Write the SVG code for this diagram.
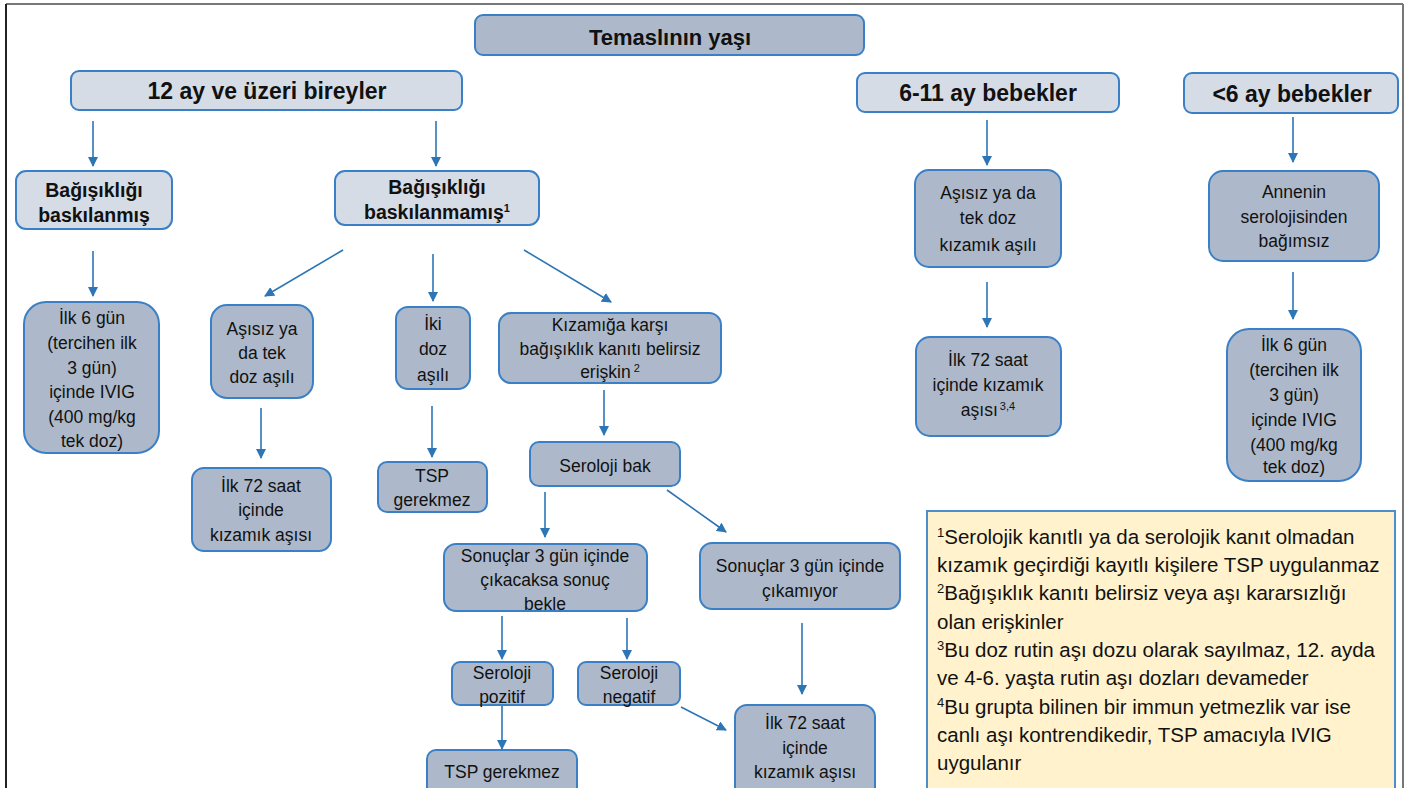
<svg xmlns="http://www.w3.org/2000/svg" width="1407" height="788" viewBox="0 0 1407 788">
<defs>
<marker id="ah" viewBox="0 0 10 10" refX="9" refY="5" markerWidth="10" markerHeight="10" markerUnits="userSpaceOnUse" orient="auto">
<path d="M0,0 L10,5 L0,10 Z" fill="#2e75b6"/>
</marker>
<style>
.lt{fill:#d6dce5;stroke:#3a80c6;stroke-width:2}
.dk{fill:#adb9ca;stroke:#3a80c6;stroke-width:2}
.lg{fill:#fff2cc;stroke:#4a8ed0;stroke-width:2}
text{font-family:"Liberation Sans","DejaVu Sans",sans-serif;fill:#111;text-anchor:middle}
.b{font-weight:bold}
.t{font-size:17.5px}
.leg text{text-anchor:start;font-size:20.5px}
#connectors line{stroke:#2e75b6;stroke-width:1.6;marker-end:url(#ah)}
</style>
</defs>
<rect width="1407" height="788" fill="#fff"/>
<g id="frame">
<line x1="6" y1="4" x2="1403" y2="4" stroke="#777" stroke-width="2"/>
<line x1="6" y1="4" x2="6" y2="788" stroke="#222" stroke-width="2"/>
<line x1="1403" y1="4" x2="1403" y2="788" stroke="#777" stroke-width="2"/>
</g>
<g id="connectors">
<line x1="93" y1="121" x2="93" y2="166"/>
<line x1="436" y1="121" x2="436" y2="166"/>
<line x1="93" y1="251" x2="93" y2="296"/>
<line x1="343" y1="250" x2="265" y2="296"/>
<line x1="433" y1="254" x2="433" y2="301"/>
<line x1="524" y1="250" x2="611" y2="302"/>
<line x1="261" y1="408" x2="261" y2="458"/>
<line x1="432" y1="406" x2="432" y2="457"/>
<line x1="604" y1="390" x2="604" y2="435"/>
<line x1="545" y1="492" x2="545" y2="537"/>
<line x1="667" y1="490" x2="726" y2="532"/>
<line x1="502" y1="616" x2="502" y2="659"/>
<line x1="627" y1="618" x2="627" y2="659"/>
<line x1="802" y1="623" x2="802" y2="694"/>
<line x1="502" y1="705" x2="502" y2="749"/>
<line x1="681" y1="707" x2="726" y2="730"/>
<line x1="987" y1="120" x2="987" y2="165"/>
<line x1="987" y1="282" x2="987" y2="327"/>
<line x1="1293" y1="117" x2="1293" y2="162"/>
<line x1="1293" y1="272" x2="1293" y2="319"/>
</g>
<g id="n-temas"><rect class="dk" x="475" y="15" width="389" height="40" rx="8"/><text class="b" x="670" y="45" font-size="22">Temaslının yaşı</text></g>
<g id="n-12ay"><rect class="lt" x="71" y="71" width="391" height="39" rx="8"/><text class="b" x="267" y="99" font-size="23">12 ay ve üzeri bireyler</text></g>
<g id="n-611"><rect class="lt" x="857" y="73" width="262" height="39" rx="8"/><text class="b" x="988" y="101" font-size="23">6-11 ay bebekler</text></g>
<g id="n-lt6"><rect class="lt" x="1184" y="73" width="214" height="40" rx="8"/><text class="b" x="1292" y="102" font-size="23">&lt;6 ay bebekler</text></g>
<g id="n-bask"><rect class="lt" x="16" y="171" width="156" height="58" rx="10"/><text class="b" x="94" y="197" font-size="19.5">Bağışıklığı</text><text class="b" x="94" y="222" font-size="19.5">baskılanmış</text></g>
<g id="n-baskma"><rect class="lt" x="335" y="171" width="204" height="54" rx="10"/><text class="b" x="437" y="194" font-size="19.5">Bağışıklığı</text><text class="b" x="437" y="219" font-size="19.5">baskılanmamış<tspan font-size="11" dy="-7">1</tspan></text></g>
<g id="n-ivig1"><rect class="dk" x="24" y="302" width="135" height="151" rx="22"/>
<text class="t" x="92" y="324">İlk 6 gün</text><text class="t" x="92" y="349">(tercihen ilk</text><text class="t" x="92" y="374">3 gün)</text><text class="t" x="92" y="398">içinde IVIG</text><text class="t" x="92" y="423">(400 mg/kg</text><text class="t" x="92" y="447">tek doz)</text></g>
<g id="n-asisiz"><rect class="dk" x="211" y="305" width="102" height="93" rx="16"/>
<text class="t" x="262" y="335">Aşısız ya</text><text class="t" x="262" y="359">da tek</text><text class="t" x="262" y="383">doz aşılı</text></g>
<g id="n-iki"><rect class="dk" x="396" y="307" width="74" height="82" rx="12"/>
<text class="t" x="433" y="330">İki</text><text class="t" x="433" y="355">doz</text><text class="t" x="433" y="381">aşılı</text></g>
<g id="n-kizamiga"><rect class="dk" x="499" y="313" width="222" height="70" rx="12"/>
<text x="610" y="331" font-size="17.5">Kızamığa karşı</text><text x="610" y="355" font-size="17.5">bağışıklık kanıtı belirsiz</text><text x="610" y="378" font-size="17.5">erişkin<tspan font-size="11" dx="3" dy="-6">2</tspan></text></g>
<g id="n-72a"><rect class="dk" x="192" y="468" width="139" height="83" rx="12"/>
<text class="t" x="261" y="492">İlk 72 saat</text><text class="t" x="261" y="516">içinde</text><text class="t" x="261" y="541">kızamık aşısı</text></g>
<g id="n-tsp1"><rect class="dk" x="378" y="462" width="109" height="50" rx="9"/>
<text class="t" x="432" y="482">TSP</text><text class="t" x="432" y="506">gerekmez</text></g>
<g id="n-serbak"><rect class="dk" x="530" y="442" width="150" height="44" rx="9"/><text class="t" x="605" y="472">Seroloji bak</text></g>
<g id="n-sonuc1"><rect class="dk" x="444" y="544" width="203" height="67" rx="12"/>
<text class="t" x="545" y="562">Sonuçlar 3 gün içinde</text><text class="t" x="545" y="586">çıkacaksa sonuç</text><text class="t" x="545" y="610">bekle</text></g>
<g id="n-sonuc2"><rect class="dk" x="700" y="543" width="200" height="66" rx="12"/>
<text class="t" x="800" y="572">Sonuçlar 3 gün içinde</text><text class="t" x="800" y="597">çıkamıyor</text></g>
<g id="n-poz"><rect class="dk" x="452" y="662" width="101" height="43" rx="8"/>
<text class="t" x="502" y="679">Seroloji</text><text class="t" x="502" y="703">pozitif</text></g>
<g id="n-neg"><rect class="dk" x="578" y="662" width="102" height="43" rx="8"/>
<text class="t" x="629" y="679">Seroloji</text><text class="t" x="629" y="703">negatif</text></g>
<g id="n-tsp2"><rect class="dk" x="427" y="750" width="150" height="60" rx="9"/><text class="t" x="502" y="778">TSP gerekmez</text></g>
<g id="n-72b"><rect class="dk" x="735" y="705" width="140" height="100" rx="12"/>
<text class="t" x="805" y="729">İlk 72 saat</text><text class="t" x="805" y="754">içinde</text><text class="t" x="805" y="778">kızamık aşısı</text></g>
<g id="n-asisiz2"><rect class="dk" x="915" y="170" width="146" height="97" rx="14"/>
<text class="t" x="988" y="199">Aşısız ya da</text><text class="t" x="988" y="224">tek doz</text><text class="t" x="988" y="251">kızamık aşılı</text></g>
<g id="n-72c"><rect class="dk" x="916" y="337" width="145" height="99" rx="14"/>
<text class="t" x="988" y="366">İlk 72 saat</text><text class="t" x="988" y="391">içinde kızamık</text><text class="t" x="988" y="416">aşısı<tspan font-size="11" dx="2" dy="-6">3,4</tspan></text></g>
<g id="n-annenin"><rect class="dk" x="1209" y="171" width="170" height="90" rx="14"/>
<text class="t" x="1294" y="198">Annenin</text><text class="t" x="1294" y="223">serolojisinden</text><text class="t" x="1294" y="247">bağımsız</text></g>
<g id="n-ivig2"><rect class="dk" x="1227" y="329" width="134" height="152" rx="22"/>
<text class="t" x="1294" y="351">İlk 6 gün</text><text class="t" x="1294" y="376">(tercihen ilk</text><text class="t" x="1294" y="401">3 gün)</text><text class="t" x="1294" y="426">içinde IVIG</text><text class="t" x="1294" y="451">(400 mg/kg</text><text class="t" x="1294" y="473">tek doz)</text></g>
<g id="legend" class="leg"><rect class="lg" x="927" y="511" width="468" height="290"/>
<text x="937" y="544"><tspan font-size="13" dy="-7">1</tspan><tspan dy="7">Serolojik kanıtlı ya da serolojik kanıt olmadan</tspan></text>
<text x="937" y="572">kızamık geçirdiği kayıtlı kişilere TSP uygulanmaz</text>
<text x="937" y="600"><tspan font-size="13" dy="-7">2</tspan><tspan dy="7">Bağışıklık kanıtı belirsiz veya aşı kararsızlığı</tspan></text>
<text x="937" y="629">olan erişkinler</text>
<text x="937" y="657"><tspan font-size="13" dy="-7">3</tspan><tspan dy="7">Bu doz rutin aşı dozu olarak sayılmaz, 12. ayda</tspan></text>
<text x="937" y="685">ve 4-6. yaşta rutin aşı dozları devameder</text>
<text x="937" y="714"><tspan font-size="13" dy="-7">4</tspan><tspan dy="7">Bu grupta bilinen bir immun yetmezlik var ise</tspan></text>
<text x="937" y="742">canlı aşı kontrendikedir, TSP amacıyla IVIG</text>
<text x="937" y="770">uygulanır</text>
</g>
</svg>
